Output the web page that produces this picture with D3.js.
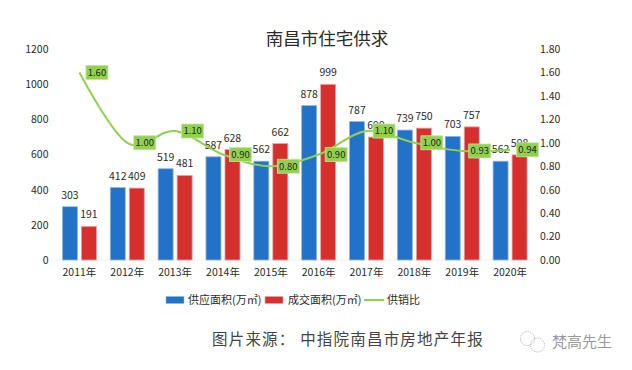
<!DOCTYPE html>
<html>
<head>
<meta charset="utf-8">
<script src="https://cdn.jsdelivr.net/npm/d3@7"></script>
<style>
  html, body { margin: 0; padding: 0; background: #fff; }
  text { font-family: "Noto Sans CJK SC", "Noto Sans", sans-serif; }
</style>
</head>
<body>
<div id="chart"></div>
<script>
const years = ["2011年","2012年","2013年","2014年","2015年","2016年","2017年","2018年","2019年","2020年"];
const supply = [303,412,519,587,562,878,787,739,703,562];
const sold = [191,409,481,628,662,999,699,750,757,598];
const ratio = [1.60,1.00,1.10,0.90,0.80,0.90,1.10,1.00,0.93,0.94];
const leftTicks = [0,200,400,600,800,1000,1200];
const rightTicks = [0,0.2,0.4,0.6,0.8,1.0,1.2,1.4,1.6,1.8];

const width = 632, height = 370;
const margin = {top: 49, right: 98, bottom: 110, left: 55.5};

const svg = d3.select("#chart").append("svg")
  .attr("width", width)
  .attr("height", height)
  .style("display", "block");

const x = d3.scaleBand().domain(years).range([margin.left, width - margin.right]);
const y = d3.scaleLinear().domain([0, 1200]).range([height - margin.bottom, margin.top]);
const y2 = d3.scaleLinear().domain([0, 1.8]).range([height - margin.bottom, margin.top]);

const textColor = "#2b2b2b";
const barW = 15, gap = 4;

svg.append("text")
  .attr("x", 327).attr("y", 45)
  .attr("text-anchor", "middle")
  .attr("font-size", 17.5)
  .attr("fill", "#2b2b2b")
  .text("南昌市住宅供求");

// axes
const axisL = svg.append("g")
  .attr("transform", `translate(${margin.left},0)`)
  .call(d3.axisLeft(y).tickValues(leftTicks).tickSize(0).tickPadding(7).tickFormat(d3.format("d")));
const axisR = svg.append("g")
  .attr("transform", `translate(${width - margin.right},0)`)
  .call(d3.axisRight(y2).tickValues(rightTicks).tickSize(0).tickPadding(6).tickFormat(d3.format(".2f")));
const axisB = svg.append("g")
  .attr("transform", `translate(0,${height - margin.bottom})`)
  .call(d3.axisBottom(x).tickSize(0).tickPadding(9));
[axisL, axisR, axisB].forEach(a => {
  a.selectAll("text").attr("font-size", 10.5).attr("fill", textColor).style("font-family", '"Noto Sans CJK SC", sans-serif');
  a.select(".domain").remove();
});
svg.append("line")
  .attr("x1", margin.left).attr("x2", width - margin.right)
  .attr("y1", y(0)).attr("y2", y(0))
  .attr("stroke", "#eeeeee");

// bars
function drawBars(values, offset, fill, edge) {
  svg.append("g").selectAll("rect")
    .data(values)
    .join("rect")
    .attr("x", (d, i) => x(years[i]) + x.bandwidth() / 2 + offset)
    .attr("y", d => y(d))
    .attr("width", barW)
    .attr("height", d => y(0) - y(d))
    .attr("fill", fill)
    .attr("stroke", edge)
    .attr("stroke-width", 0.8);
  svg.append("g").selectAll("text")
    .data(values)
    .join("text")
    .attr("x", (d, i) => x(years[i]) + x.bandwidth() / 2 + offset + barW / 2)
    .attr("y", d => y(d) - 8)
    .attr("text-anchor", "middle")
    .attr("font-size", 10.5)
    .attr("fill", textColor)
    .text(d => d);
}
drawBars(supply, -barW - gap / 2, "#2272c8", "#8db8e6");
drawBars(sold, gap / 2, "#d5302d", "#eca0a0");

// ratio line
const line = d3.line()
  .x((d, i) => x(years[i]) + x.bandwidth() / 2)
  .y(d => y2(d))
  .curve(d3.curveCatmullRom.alpha(0));

svg.append("path")
  .datum(ratio)
  .attr("d", line)
  .attr("fill", "none")
  .attr("stroke", "#92d050")
  .attr("stroke-width", 2);

// ratio labels sit to the right of each point
const lab = svg.append("g").selectAll("g")
  .data(ratio)
  .join("g")
  .attr("transform", (d, i) => `translate(${x(years[i]) + x.bandwidth() / 2 + 17.5},${y2(d)})`);
lab.append("rect")
  .attr("x", -11).attr("y", -7)
  .attr("width", 22).attr("height", 14)
  .attr("fill", "#92d050")
  .attr("stroke", "#c4e5a2")
  .attr("stroke-width", 0.8);
lab.append("text")
  .attr("text-anchor", "middle")
  .attr("dy", "0.36em")
  .attr("font-size", 9.5)
  .attr("fill", "#222")
  .text(d => d.toFixed(2));

// legend
const legendItems = ["供应面积(万㎡)", "成交面积(万㎡)", "供销比"];
const legY = 300;
const leg = svg.append("g");
leg.append("rect").attr("x", 166).attr("y", legY - 3.5).attr("width", 18).attr("height", 7).attr("fill", "#2272c8").attr("stroke", "#8db8e6").attr("stroke-width", 0.6);
leg.append("rect").attr("x", 265).attr("y", legY - 3.5).attr("width", 18).attr("height", 7).attr("fill", "#d5302d").attr("stroke", "#eca0a0").attr("stroke-width", 0.6);
leg.append("line").attr("x1", 364).attr("x2", 384).attr("y1", legY).attr("y2", legY).attr("stroke", "#92d050").attr("stroke-width", 2);
leg.selectAll("text")
  .data(legendItems)
  .join("text")
  .attr("x", (d, i) => [188, 288, 387][i])
  .attr("y", legY)
  .attr("dy", "0.36em")
  .attr("font-size", 11)
  .attr("fill", textColor)
  .text(d => d);

// source line
svg.append("text")
  .attr("x", 212).attr("y", 344.5)
  .attr("font-size", 15.5)
  .attr("letter-spacing", 1.2)
  .attr("fill", "#444")
  .text("图片来源： 中指院南昌市房地产年报");

// watermark
const wm = svg.append("g").attr("fill", "none").attr("stroke", "#aaa").attr("stroke-dasharray", "1 1.2");
wm.append("circle").attr("cx", 527.5).attr("cy", 338.5).attr("r", 7);
wm.append("circle").attr("cx", 537.5).attr("cy", 345).attr("r", 7);
svg.append("text")
  .attr("x", 552).attr("y", 347)
  .attr("font-size", 15)
  .attr("fill", "#999")
  .text("梵高先生");
</script>
</body>
</html>
